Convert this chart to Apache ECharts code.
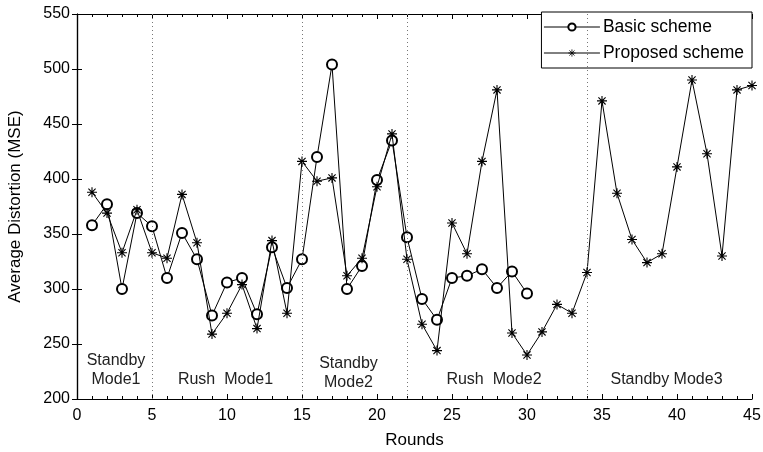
<!DOCTYPE html>
<html>
<head>
<meta charset="utf-8">
<script src="https://cdn.jsdelivr.net/npm/echarts@6/dist/echarts.min.js"></script>
<style>
  html, body { margin: 0; padding: 0; background: #fff; }
  #chart { width: 763px; height: 452px; }
</style>
</head>
<body>
<div id="chart"></div>
<script>
// rounds 1..45
var rounds = [];
for (var i = 1; i <= 45; i++) rounds.push(i);

// basic scheme only runs to round 30
var basicScheme = [358, 377, 300, 369, 357, 310, 351, 327, 276, 306,
                   310, 277, 338, 301, 327, 420, 504, 300, 321, 399,
                   435, 347, 291, 272, 310, 312, 318, 301, 316, 296];
var proposedScheme = [388, 369, 333, 372, 333, 328, 386, 342, 259, 278,
                      304, 264, 344, 278, 416, 398, 401, 312, 328, 393,
                      441, 327, 268, 244, 360, 332, 416, 481, 260, 240,
                      261, 286, 278, 315, 471, 387, 345, 324, 332, 411,
                      490, 423, 330, 481, 485];

// mode boundaries (dotted lines)
var modeBounds = [5, 15, 22, 34];
// mode labels: [x, y, text]
var modeLabels = [
  [2.6, 226, 'Standby\nMode1'],
  [9.9, 218, 'Rush  Mode1'],
  [18.1, 224, 'Standby\nMode2'],
  [27.8, 218, 'Rush  Mode2'],
  [39.3, 218, 'Standby Mode3']
];

var FONT = 'Liberation Sans, Arial, Helvetica, sans-serif';
var star = 'path://M0,-5L0,5M-5,0L5,0M-3.6,-3.6L3.6,3.6M-3.6,3.6L3.6,-3.6';

function pairs(vals){
  var out = [];
  for (var i = 0; i < vals.length; i++) out.push([rounds[i], vals[i]]);
  return out;
}

var myChart = echarts.init(document.getElementById('chart'));

var tickCommon = {
  axisLine: { show: true, lineStyle: { color: '#000', width: 1.2 } },
  axisTick: { show: true, inside: true, length: 5, lineStyle: { color: '#000' } },
  splitLine: { show: false }
};

option = {
  animation: false,
  backgroundColor: '#fff',
  grid: { left: 77, right: 11, top: 14, bottom: 53, outerBoundsMode: 'none', containLabel: false },
  legend: {
    right: 11,
    top: 12,
    orient: 'vertical',
    backgroundColor: '#fff',
    borderColor: '#000',
    borderWidth: 1,
    borderRadius: 0,
    padding: [6, 8, 6, 2],
    itemGap: 8,
    itemWidth: 56,
    itemHeight: 9,
    lineStyle: { width: 1, color: '#000' },
    itemStyle: { borderWidth: 0.8 },
    textStyle: { fontFamily: FONT, fontSize: 17.5, color: '#000', padding: [0, 0, 0, -2] },
    data: ['Basic scheme', 'Proposed scheme']
  },
  xAxis: [
    Object.assign({
      type: 'value', min: 0, max: 45, interval: 5,
      name: 'Rounds', nameLocation: 'middle', nameGap: 33,
      nameTextStyle: { fontFamily: FONT, fontSize: 17, color: '#000' },
      axisLabel: { fontFamily: FONT, fontSize: 16, color: '#000', margin: 9 },
      minorTick: { show: true, splitNumber: 5, length: 3, lineStyle: { color: '#000' } }
    }, tickCommon),
    Object.assign({
      type: 'value', min: 0, max: 45, interval: 5, position: 'top',
      axisLabel: { show: false },
      minorTick: { show: true, splitNumber: 5, length: 3, lineStyle: { color: '#000' } }
    }, tickCommon)
  ],
  yAxis: [
    Object.assign({
      type: 'value', min: 200, max: 550, interval: 50,
      name: 'Average Distortion (MSE)', nameLocation: 'middle', nameGap: 53,
      nameTextStyle: { fontFamily: FONT, fontSize: 17, color: '#000' },
      axisLabel: { fontFamily: FONT, fontSize: 16, color: '#000', margin: 7 }
    }, tickCommon),
    Object.assign({
      type: 'value', min: 200, max: 550, interval: 50, position: 'right',
      axisLabel: { show: false }
    }, tickCommon)
  ],
  series: [
    {
      name: 'Basic scheme',
      type: 'line',
      data: pairs(basicScheme),
      symbol: 'emptyCircle',
      symbolSize: 10,
      showAllSymbol: true,
      lineStyle: { color: '#000', width: 1 },
      itemStyle: { color: '#000', borderColor: '#000', borderWidth: 0.8 },
      markLine: {
        silent: true,
        symbol: 'none',
        label: { show: false },
        lineStyle: { color: '#777', type: [1, 3], width: 1 },
        data: modeBounds.map(function(v){ return { xAxis: v }; })
      },
      z: 3
    },
    {
      name: 'Proposed scheme',
      type: 'line',
      data: pairs(proposedScheme),
      symbol: star,
      symbolSize: 10,
      showAllSymbol: true,
      lineStyle: { color: '#000', width: 1 },
      itemStyle: { color: '#000', borderColor: '#000', borderWidth: 1.1 },
      markPoint: {
        silent: true,
        symbol: 'circle',
        symbolSize: 0,
        label: {
          show: true, position: 'inside', color: '#222',
          fontFamily: FONT, fontSize: 16, lineHeight: 19, align: 'center'
        },
        data: modeLabels.map(function(m){
          return { coord: [m[0], m[1]], value: m[2], label: { formatter: m[2] } };
        })
      },
      z: 4
    }
  ]
};

myChart.setOption(option);
</script>
</body>
</html>
